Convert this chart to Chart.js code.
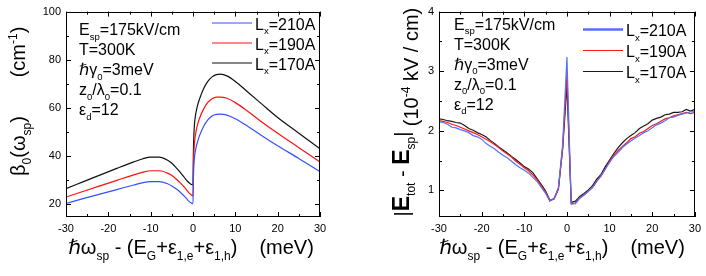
<!DOCTYPE html>
<html lang="en">
<head>
<meta charset="UTF-8">
<title>beta0 and |Etot - Esp| vs detuning</title>
<script src="https://cdn.jsdelivr.net/npm/chart.js"></script>
<style>
  html, body { margin: 0; padding: 0; background: #fff; }
  #wrap { position: relative; width: 706px; height: 276px; }
  #wrap canvas { position: absolute; top: 0; }
</style>
</head>
<body>
<div id="wrap">
  <canvas id="beta" width="353" height="276" style="left:0"></canvas>
  <canvas id="field" width="353" height="276" style="left:353px"></canvas>
</div>
<script>
const FONT = "'Liberation Sans', Arial, 'DejaVu Sans', sans-serif";

// series labels (L_x = ...)
const LX_LABELS = ['210A', '190A', '170A'];

// left panel: beta_0(omega_sp), cm^-1
const BETA_X   = [-30, -26, -22, -18, -14, -12, -10, -8, -6, -5, -4, -3, -2, -1.5, -1, -0.5, 0,
                  0.1, 0.3, 0.6, 1, 1.5, 2.5, 3.5, 4.5, 5.5, 6.5, 8, 10, 13, 16, 20, 25, 30];
const BETA_210 = [20.3, 22.3, 24.2, 26.1, 28.0, 28.9, 29.4, 29.4, 28.5, 27.6, 26.4, 25.0, 23.3, 22.3, 21.3, 20.6, 20.2,
                  31.0, 38.5, 42.5, 45.5, 48.3, 52.3, 55.0, 56.6, 57.3, 57.4, 57.0, 55.5, 52.3, 48.8, 44.3, 39.0, 33.5];
const BETA_190 = [23.0, 25.3, 27.6, 29.9, 32.2, 33.2, 33.9, 33.9, 32.9, 31.9, 30.5, 28.9, 27.0, 25.9, 24.8, 24.0, 23.5,
                  36.0, 44.5, 49.0, 52.5, 55.5, 59.5, 62.3, 63.8, 64.5, 64.5, 64.0, 62.2, 58.5, 54.5, 49.5, 43.5, 37.5];
const BETA_170 = [26.5, 29.3, 32.1, 34.9, 37.6, 38.8, 39.6, 39.6, 38.3, 37.0, 35.2, 33.2, 31.0, 29.9, 29.0, 28.3, 28.0,
                  42.0, 52.0, 57.0, 60.5, 63.5, 68.0, 71.0, 72.9, 73.8, 74.0, 73.3, 71.0, 66.5, 62.0, 56.0, 49.5, 43.0];
const BETA_YTICKS = [20, 40, 60, 80, 100];
const BETA_YMINOR = [30, 50, 70, 90];

// right panel: |E_tot - E_sp|, 10^-4 kV/cm
const FIELD_X = [-30, -29, -28, -27, -26, -25, -24, -23, -22, -21, -20, -19, -18, -17, -16, -15, -14, -13, -12, -11,
                 -10, -9, -8, -7, -6, -5, -4, -3, -2, -1, 0, 1, 2, 3, 4, 5, 6, 7, 8, 9,
                 10, 11, 12, 13, 14, 15, 16, 17, 18, 19, 20, 21, 22, 23, 24, 25, 26, 27, 28, 29, 30];
const FIELD_210 = [2.15, 2.14, 2.11, 2.06, 2.05, 2.02, 2.00, 1.97, 1.92, 1.90, 1.86, 1.79, 1.74, 1.70, 1.64, 1.59, 1.55, 1.49, 1.43, 1.38,
                   1.34, 1.29, 1.22, 1.15, 1.05, 0.95, 0.82, 0.87, 1.05, 1.78, 3.24, 0.77, 0.78, 0.87, 0.92, 0.99, 1.05, 1.15, 1.25, 1.36,
                   1.47, 1.57, 1.64, 1.72, 1.78, 1.83, 1.88, 1.92, 1.97, 2.00, 2.05, 2.10, 2.13, 2.17, 2.22, 2.23, 2.26, 2.28, 2.30, 2.32, 2.32];
const FIELD_190 = [2.17, 2.16, 2.14, 2.11, 2.09, 2.06, 2.03, 2.00, 1.97, 1.94, 1.90, 1.86, 1.82, 1.77, 1.72, 1.66, 1.61, 1.56, 1.49, 1.44,
                   1.38, 1.33, 1.26, 1.18, 1.07, 0.97, 0.83, 0.86, 1.02, 1.72, 2.97, 0.78, 0.79, 0.87, 0.93, 0.98, 1.05, 1.16, 1.24, 1.36,
                   1.49, 1.59, 1.67, 1.74, 1.80, 1.87, 1.90, 1.96, 1.99, 2.04, 2.09, 2.12, 2.16, 2.20, 2.22, 2.25, 2.27, 2.29, 2.31, 2.29, 2.31];
const FIELD_170 = [2.20, 2.19, 2.17, 2.16, 2.14, 2.13, 2.09, 2.04, 2.01, 1.97, 1.94, 1.90, 1.84, 1.79, 1.73, 1.68, 1.63, 1.57, 1.52, 1.46,
                   1.40, 1.36, 1.30, 1.20, 1.10, 0.99, 0.83, 0.86, 1.03, 1.70, 2.77, 0.80, 0.82, 0.90, 0.95, 1.01, 1.08, 1.19, 1.27, 1.40,
                   1.51, 1.62, 1.72, 1.80, 1.87, 1.92, 1.97, 2.04, 2.08, 2.12, 2.18, 2.21, 2.23, 2.27, 2.28, 2.31, 2.31, 2.32, 2.36, 2.33, 2.36];
const FIELD_YTICKS = [1, 2, 3, 4];
const FIELD_YMINOR = [1.5, 2.5, 3.5];

const XTICKS = [-30, -20, -10, 0, 10, 20, 30];
const XMINOR = [-25, -15, -5, 5, 15, 25];

// text in the plot (same on both panels)
const NOTES = [
  [['E', ''], ['sp', 'sub'], ['=175kV/cm', '']],
  [['T=300K', '']],
  [['\u210F', 'i'], ['\u03B3', ''], ['0', 'sub'], ['=3meV', '']],
  [['z', ''], ['0', 'sub'], ['/\u03BB', ''], ['0', 'sub'], ['=0.1', '']],
  [['\u03B5', ''], ['d', 'sub'], ['=12', '']]
];
const XTITLE = [['\u210F', 'i'], ['\u03C9', ''], ['sp', 'sub'], [' - (E', ''], ['G', 'sub'], ['+\u03B5', ''], ['1,e', 'sub'],
                ['+\u03B5', ''], ['1,h', 'sub'], [')', ''], [22, 'gap'], ['(meV)', '']];

function drawRich(ctx, parts, x, y, size, dry) {
  let cx = x;
  for (const [t, m] of parts) {
    if (m === 'gap') { cx += t; continue; }
    let fs = size, dy = 0, st = '';
    if (m === 'sub') { fs = size * 0.6; dy = size * 0.3; }
    if (m === 'sup') { fs = size * 0.6; dy = -size * 0.42; }
    if (m === 'b') st = 'bold ';
    if (m === 'bl') { st = 'bold '; fs = size * 1.15; }
    if (m === 'i') st = 'italic ';
    ctx.font = st + fs + 'px ' + FONT;
    if (!dry) ctx.fillText(t, cx, y + dy);
    cx += ctx.measureText(t).width;
  }
  return cx - x;
}

const texts = {
  id: 'texts',
  afterDraw(chart, args, o) {
    const ctx = chart.ctx, a = chart.chartArea, sx = chart.scales.x, sy = chart.scales.y;
    ctx.save();
    ctx.strokeStyle = '#000';
    ctx.fillStyle = '#000';
    ctx.lineWidth = 1;
    ctx.textBaseline = 'alphabetic';
    ctx.textAlign = 'left';
    // frame
    ctx.strokeRect(Math.round(a.left) + 0.5, Math.round(a.top) + 0.5, Math.round(a.width) - 1, Math.round(a.height) - 1);
    // inward ticks on all four sides
    ctx.beginPath();
    const xt = (v, len) => {
      const px = Math.round(sx.getPixelForValue(v)) + 0.5;
      ctx.moveTo(px, a.bottom); ctx.lineTo(px, a.bottom - len);
      ctx.moveTo(px, a.top); ctx.lineTo(px, a.top + len);
    };
    const yt = (v, len) => {
      const py = Math.round(sy.getPixelForValue(v)) + 0.5;
      ctx.moveTo(a.left, py); ctx.lineTo(a.left + len, py);
      ctx.moveTo(a.right, py); ctx.lineTo(a.right - len, py);
    };
    XTICKS.forEach(v => xt(v, 5));
    XMINOR.forEach(v => xt(v, 3));
    o.yTicks.forEach(v => yt(v, 5));
    o.yMinor.forEach(v => yt(v, 3));
    ctx.stroke();

    // notes
    NOTES.forEach((parts, i) => drawRich(ctx, parts, o.noteX, o.noteY + i * 20, 16));

    // legend
    chart.data.datasets.forEach((ds, i) => {
      const ly = o.legY + i * o.legDy;
      ctx.strokeStyle = ds.borderColor;
      ctx.lineWidth = o.legW[i];
      ctx.beginPath();
      ctx.moveTo(o.legX, ly); ctx.lineTo(o.legX + 40, ly);
      ctx.stroke();
      drawRich(ctx, [['L', ''], ['x', 'sub'], ['=' + ds.label, '']], o.legX + 43, ly + 6.5, 16);
    });

    // x title
    const xw = drawRich(ctx, XTITLE, 0, 0, 20, true);
    drawRich(ctx, XTITLE, o.xTitleC - xw / 2, o.xTitleY, 20);

    // rotated y title pieces
    for (const t of o.yTitle) {
      ctx.save();
      ctx.translate(t.x, t.y);
      ctx.rotate(-Math.PI / 2);
      const w = drawRich(ctx, t.parts, 0, 0, t.size, true);
      drawRich(ctx, t.parts, -w / 2, 0, t.size);
      ctx.restore();
    }
    ctx.restore();
  }
};

function panel(id, c) {
  const tickFont = { family: FONT, size: 11 };
  return new Chart(document.getElementById(id), {
    type: 'line',
    data: {
      datasets: c.series.map((ys, i) => ({
        label: LX_LABELS[i],
        data: c.x.map((x, j) => ({ x: x, y: ys[j] })),
        borderColor: c.colors[i],
        borderWidth: c.lineW,
        pointRadius: 0,
        fill: false,
        tension: 0,
        cubicInterpolationMode: c.smooth ? 'monotone' : 'default'
      }))
    },
    options: {
      responsive: false,
      animation: false,
      events: [],
      layout: { padding: c.pad },
      plugins: { legend: { display: false }, tooltip: { enabled: false }, texts: c.texts },
      scales: {
        x: {
          type: 'linear', min: -30, max: 30,
          afterBuildTicks: s => { s.ticks = XTICKS.map(v => ({ value: v })); },
          afterFit: s => { s.height = 59; },
          grid: { display: false, drawTicks: false, tickLength: 0 },
          border: { display: false },
          ticks: { font: tickFont, color: '#000', padding: 5, maxRotation: 0, autoSkip: false, callback: v => String(v) }
        },
        y: {
          type: 'linear', min: c.yMin, max: c.yMax,
          afterBuildTicks: s => { s.ticks = c.texts.yTicks.map(v => ({ value: v })); },
          afterFit: s => { s.width = c.yW; },
          grid: { display: false, drawTicks: false, tickLength: 0 },
          border: { display: false },
          ticks: { font: tickFont, color: '#000', padding: 5, autoSkip: false, callback: v => String(v) }
        }
      }
    },
    plugins: [texts]
  });
}

panel('beta', {
  x: BETA_X,
  series: [BETA_210, BETA_190, BETA_170],
  colors: ['#3350ff', '#ff1010', '#111111'],
  lineW: 1.2,
  smooth: true,
  yMin: 14.7, yMax: 100,
  yW: 66,
  pad: { left: 0, right: 33, top: 8, bottom: 0 },
  texts: {
    yTicks: BETA_YTICKS, yMinor: BETA_YMINOR,
    noteX: 79, noteY: 35,
    legX: 212, legY: 23, legDy: 20, legW: [1.2, 1.2, 1.2],
    xTitleC: 191, xTitleY: 254,
    yTitle: [
      { x: 25, y: 146, size: 20, parts: [['\u03B2', ''], ['0', 'sub'], ['(\u03C9', ''], ['sp', 'sub'], [')', '']] },
      { x: 25, y: 52, size: 20, parts: [['(cm', ''], ['-1', 'sup'], [')', '']] }
    ]
  }
});

panel('field', {
  x: FIELD_X,
  series: [FIELD_210, FIELD_190, FIELD_170],
  colors: ['#5570ff', '#ff1a1a', '#1a1a1a'],
  lineW: 1.2,
  smooth: false,
  yMin: 0.555, yMax: 4,
  yW: 86,
  pad: { left: 0, right: 9, top: 8, bottom: 0 },
  texts: {
    yTicks: FIELD_YTICKS, yMinor: FIELD_YMINOR,
    noteX: 101, noteY: 29.5,
    legX: 230, legY: 29.5, legDy: 21, legW: [2.5, 1.2, 1.2],
    xTitleC: 209, xTitleY: 254,
    yTitle: [
      { x: 56, y: 174, size: 20, parts: [['|', ''], ['E', 'bl'], ['tot', 'sub'], [' - ', ''], ['E', 'bl'], ['sp', 'sub'], ['|', '']] },
      { x: 65, y: 67, size: 20, parts: [['(10', ''], ['-4', 'sup'], [' kV / cm)', '']] }
    ]
  }
});
</script>
</body>
</html>
